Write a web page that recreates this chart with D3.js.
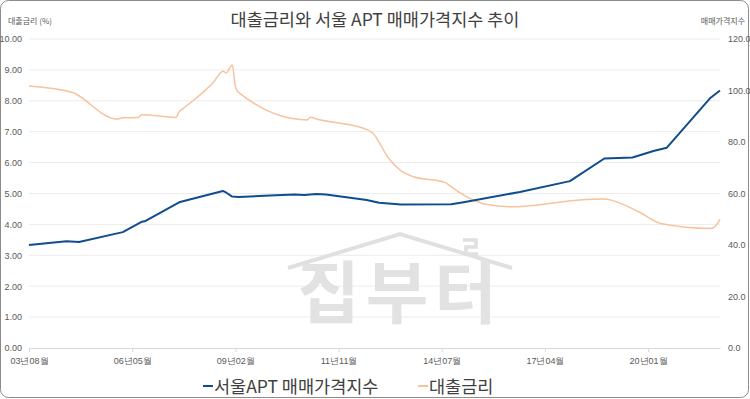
<!DOCTYPE html>
<html>
<head>
<meta charset="utf-8">
<script src="https://cdn.jsdelivr.net/npm/d3@7"></script>
<style>
  body { margin: 0; background: #fff; }
  svg { font-family: "Noto Sans CJK KR", "Noto Sans", sans-serif; }
</style>
</head>
<body>
<div id="chart"></div>
<script>
// category index (point number) and values
var tickIdx = [0, 33, 66, 99, 132, 165, 198];
var tickLabels = ['03년08월', '06년05월', '09년02월', '11년11월', '14년07월', '17년04월', '20년01월'];

// 서울APT 매매가격지수 (right axis)
var aptIdx = [0, 12, 16, 30, 36, 37, 48, 62, 63, 65, 67, 77, 85, 88, 92, 95, 108, 112, 119, 135, 139, 157, 173, 184, 193, 200, 204, 218, 221];
var aptVal = [40.0, 41.5, 41.2, 45.0, 49.0, 49.2, 56.6, 61.0, 60.4, 58.8, 58.6, 59.2, 59.6, 59.4, 59.8, 59.6, 57.5, 56.4, 55.7, 55.8, 56.6, 60.6, 64.8, 73.6, 74.0, 76.6, 77.8, 97.2, 100.0];

// 대출금리 (left axis, %)
var rateIdx = [0, 14, 15, 28, 30, 35, 36, 47, 48, 49, 59, 62, 63, 65, 66, 67, 89, 90, 92, 107, 110, 115, 119, 123, 133, 135, 141, 146, 155, 160, 176, 184, 185, 195, 202, 218, 219, 220, 221];
var rateVal = [8.48, 8.27, 8.22, 7.41, 7.45, 7.46, 7.55, 7.46, 7.65, 7.73, 8.60, 8.96, 8.90, 9.16, 8.46, 8.27, 7.38, 7.47, 7.41, 7.11, 6.95, 6.14, 5.73, 5.54, 5.36, 5.22, 4.84, 4.65, 4.57, 4.60, 4.79, 4.82, 4.81, 4.41, 4.03, 3.87, 3.90, 4.00, 4.17];

var W = 750, H = 399;
var margin = {top: 39, right: 30, bottom: 51, left: 29};

var svg = d3.select('#chart').append('svg')
    .attr('width', W)
    .attr('height', H);

// frame
svg.append('rect')
    .attr('x', 0.5).attr('y', 0.5)
    .attr('width', W - 2).attr('height', H - 2)
    .attr('rx', 8)
    .style('fill', '#fff')
    .style('stroke', '#8c8c8c');

var x = d3.scaleLinear().domain([0, 221]).range([margin.left, W - margin.right]);
var yL = d3.scaleLinear().domain([0, 10]).range([H - margin.bottom, margin.top]);
var yR = d3.scaleLinear().domain([0, 120]).range([H - margin.bottom, margin.top]);

// gridlines
svg.append('g')
    .selectAll('line')
    .data(d3.range(1, 11))
    .enter().append('line')
    .attr('x1', margin.left).attr('x2', W - margin.right)
    .attr('y1', function (d) { return yL(d); })
    .attr('y2', function (d) { return yL(d); })
    .style('stroke', '#ececec');

// watermark
var wm = svg.append('g');
wm.append('path')
    .attr('d', 'M288,268 L400,234 L512,268')
    .style('fill', 'none')
    .style('stroke', '#e0e0e0')
    .style('stroke-width', 4);
wm.append('path')
    .attr('d', 'M463,240 L476,240 L476,247 L466,247 L466,254 L478,254')
    .style('fill', 'none')
    .style('stroke', '#e0e0e0')
    .style('stroke-width', 3.5);
wm.append('text')
    .attr('x', 400).attr('y', 318)
    .attr('text-anchor', 'middle')
    .style('font-size', '68px')
    .style('font-weight', 'bold')
    .style('letter-spacing', '6px')
    .style('fill', '#e2e2e2')
    .text('집부터');

// x axis
var xAxis = svg.append('g')
    .attr('transform', 'translate(0,' + (H - margin.bottom) + ')')
    .call(d3.axisBottom(x).tickValues(tickIdx)
        .tickFormat(function (d, i) { return tickLabels[i]; })
        .tickSize(4).tickPadding(6).tickSizeOuter(0));
xAxis.select('.domain').style('stroke', '#d9d9d9');
xAxis.selectAll('.tick line').style('stroke', '#d9d9d9');
xAxis.selectAll('text').style('fill', '#595959').style('font-size', '9px');

// left axis
var lAxis = svg.append('g')
    .attr('transform', 'translate(22,0)')
    .call(d3.axisLeft(yL).tickValues(d3.range(0, 11)).tickFormat(d3.format('.2f')).tickSize(0).tickPadding(0));
lAxis.select('.domain').remove();
lAxis.selectAll('text').style('fill', '#595959').style('font-size', '9px');

// right axis
var rAxis = svg.append('g')
    .attr('transform', 'translate(728,0)')
    .call(d3.axisRight(yR).tickValues(d3.range(0, 121, 20)).tickFormat(d3.format('.1f')).tickSize(0).tickPadding(0));
rAxis.select('.domain').remove();
rAxis.selectAll('text').style('fill', '#595959').style('font-size', '9px');

// axis titles
svg.append('text')
    .attr('x', 8).attr('y', 24)
    .style('font-size', '8px').style('fill', '#595959')
    .text('대출금리 (%)');
svg.append('text')
    .attr('x', 745).attr('y', 24)
    .attr('text-anchor', 'end')
    .style('font-size', '8px').style('fill', '#595959')
    .text('매매가격지수');

// title
svg.append('text')
    .attr('x', 375).attr('y', 26)
    .attr('text-anchor', 'middle')
    .style('font-size', '17.5px').style('fill', '#404040')
    .text('대출금리와 서울 APT 매매가격지수 추이');

// lines
var rateLine = d3.line()
    .x(function (d, i) { return x(rateIdx[i]); })
    .y(function (d) { return yL(d); })
    .curve(d3.curveMonotoneX);
var aptLine = d3.line()
    .x(function (d, i) { return x(aptIdx[i]); })
    .y(function (d) { return yR(d); });

svg.append('path')
    .datum(rateVal)
    .attr('d', rateLine)
    .style('fill', 'none')
    .style('stroke', '#f7c29d')
    .style('stroke-width', 1.5);

svg.append('path')
    .datum(aptVal)
    .attr('d', aptLine)
    .style('fill', 'none')
    .style('stroke', '#0f4d8f')
    .style('stroke-width', 2)
    .style('stroke-linejoin', 'round');

// legend
var legend = [
    {name: '서울APT 매매가격지수', color: '#0f4d8f', x: 203},
    {name: '대출금리', color: '#f7c29d', x: 418}
];
var lg = svg.selectAll('.legend')
    .data(legend)
    .enter().append('g')
    .attr('class', 'legend')
    .attr('transform', function (d) { return 'translate(' + d.x + ',386)'; });
lg.append('line')
    .attr('x1', 0).attr('x2', 10)
    .style('stroke', function (d) { return d.color; })
    .style('stroke-width', 2);
lg.append('text')
    .attr('x', 11).attr('y', 7)
    .style('font-size', '17.5px').style('fill', '#404040')
    .text(function (d) { return d.name; });
</script>
</body>
</html>
